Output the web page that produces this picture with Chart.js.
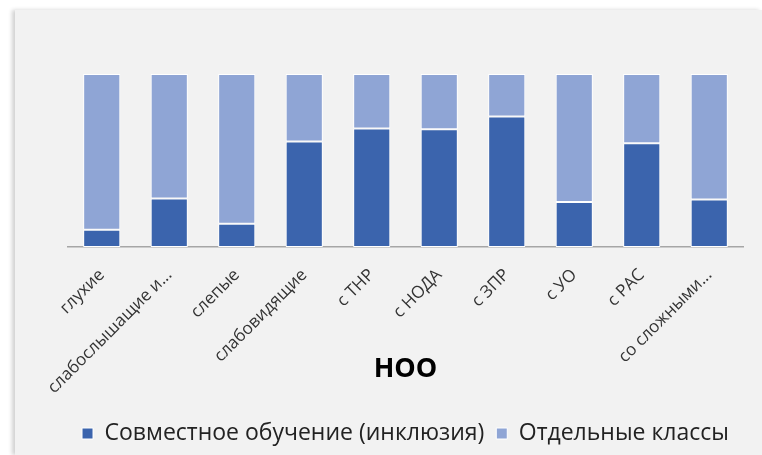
<!DOCTYPE html>
<html>
<head>
<meta charset="utf-8">
<script src="https://cdn.jsdelivr.net/npm/chart.js@4"></script>
<style>
  html, body { margin: 0; padding: 0; background: #fff; }
  .panel {
    position: absolute; left: 15px; top: 10px;
    width: 747px; height: 445px;
    background: #f2f2f2;
    box-shadow: -3px 0 4px rgba(0,0,0,0.18);
  }
</style>
</head>
<body>
<div class="panel"><canvas id="chart" width="747" height="445"></canvas></div>
<script>
// категории
var categories = ['глухие', 'слабослышащие и...', 'слепые', 'слабовидящие', 'с ТНР',
                  'с НОДА', 'с ЗПР', 'с УО', 'с РАС', 'со сложными...'];
// доли, %
var inclusion = [10, 28, 13.5, 61, 68.5, 68, 75.5, 26, 60, 27.5];
var separate  = [90, 72, 86.5, 39, 31.5, 32, 24.5, 74, 40, 72.5];
var seriesNames = ['Совместное обучение (инклюзия)', 'Отдельные классы'];
var axisTitle = 'НОО';

var ctx = document.getElementById('chart').getContext('2d');
var chart = new Chart(ctx, {
  type: 'bar',
  data: {
    labels: categories,
    datasets: [{
      label: seriesNames[0],
      data: inclusion,
      backgroundColor: '#3b64ad',
      borderColor: '#ffffff',
      borderWidth: 1,
      borderSkipped: false
    }, {
      label: seriesNames[1],
      data: separate,
      backgroundColor: '#8fa5d5',
      borderColor: '#ffffff',
      borderWidth: 1,
      borderSkipped: false
    }]
  },
  options: {
    responsive: false,
    animation: false,
    layout: { padding: { left: 53, right: 19, top: 64, bottom: 0 } },
    datasets: { bar: { categoryPercentage: 1, barPercentage: 0.55 } },
    scales: {
      x: {
        stacked: true,
        grid: { display: false, drawTicks: false },
        border: { display: true, color: '#a6a6a6', width: 1.5 },
        ticks: {
          autoSkip: false, maxRotation: 45, minRotation: 45, padding: 18,
          color: '#333',
          font: { family: 'Open Sans', size: 17 }
        },
        title: {
          display: true, text: axisTitle, color: '#000',
          font: { family: 'Open Sans', size: 27, weight: 'bold' },
          padding: { top: 0, bottom: 24 }
        },
        afterFit: function(scale) { scale.height = 163; }
      },
      y: { stacked: true, display: false, min: 0, max: 100 }
    },
    plugins: {
      legend: {
        position: 'bottom',
        labels: {
          boxWidth: 11, boxHeight: 11, padding: 12,
          color: '#222',
          font: { family: 'Open Sans', size: 23 }
        }
      },
      tooltip: { enabled: false }
    }
  }
});
</script>
</body>
</html>
